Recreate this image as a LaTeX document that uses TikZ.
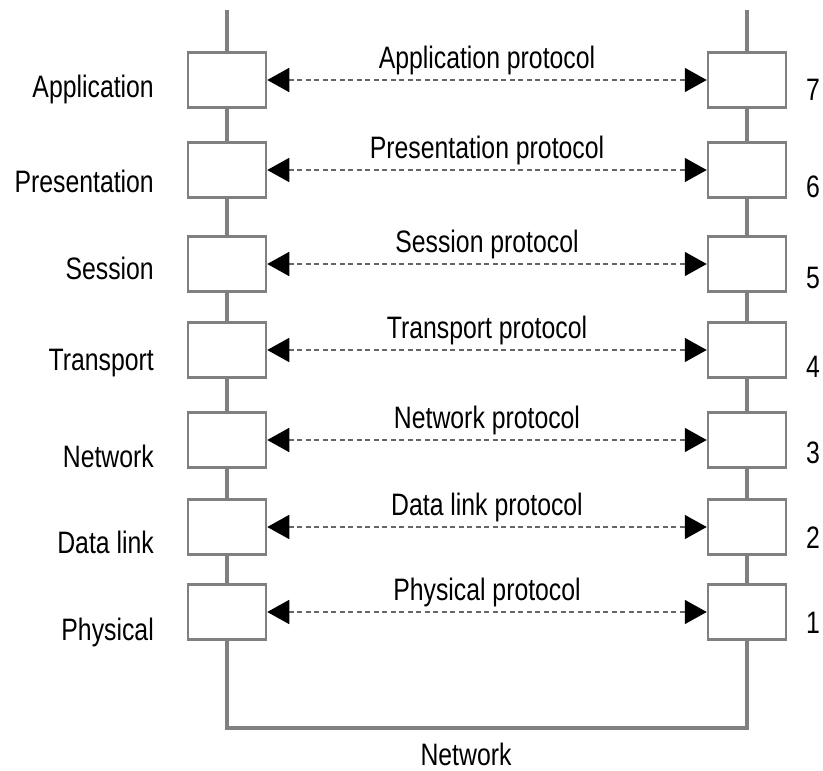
\documentclass[tikz,border=0pt]{standalone}
\usepackage{fontspec}
\newfontfamily\narrowsans{Liberation Sans}[FakeStretch=0.8]
\usetikzlibrary{arrows.meta}
\tikzset{
  layerbox/.style={draw=gray, line width=2.5pt, fill=white, minimum width=78pt, minimum height=55pt, inner sep=0pt},
  wire/.style={draw=gray, line width=3.5pt},
  peer/.style={draw=black!60, line width=1.6pt, dash pattern=on 5pt off 3.5pt, {Triangle[length=22pt,width=24pt,black]}-{Triangle[length=22pt,width=24pt,black]}},
  lbl/.style={font=\narrowsans\fontsize{31}{36}\selectfont, inner sep=0pt}
}
\begin{document}
\begin{tikzpicture}[x = 1pt, y = -1pt]
  \useasboundingbox (0,0) rectangle (823,771);
  % the seven layers on both hosts
  \foreach \n/\name/\yc/\lb/\nb in {7/Application/80/97/100, 6/Presentation/170/192/197, 5/Session/264/279/288, 4/Transport/350/370/377, 3/Network/440/467/463, 2/Data link/527/553/548, 1/Physical/612/640/633}{
    \node[layerbox] (L\n) at (227,\yc) {};
    \node[layerbox] (R\n) at (747,\yc) {};
    \node[lbl, anchor=base east] (name\n) at (154,\lb) {\name};
    \node[lbl, anchor=base] (num\n) at (813,\nb) {\n};
    \draw[peer] (L\n.east) -- (R\n.west);
    \node[lbl, anchor=base] (proto\n) at (487,\yc-12) {\name\ protocol};
  }
  % stacks
  \coordinate (Ltop) at (227,10);
  \coordinate (Rtop) at (747,10);
  \draw[wire] (Ltop) -- (L7.north);
  \draw[wire] (Rtop) -- (R7.north);
  \foreach \a/\b in {7/6, 6/5, 5/4, 4/3, 3/2, 2/1}{
    \draw[wire] (L\a.south) -- (L\b.north);
    \draw[wire] (R\a.south) -- (R\b.north);
  }
  % physical link
  \coordinate (bus) at (487,728);
  \draw[wire] (L1.south) |- (bus) -| (R1.south);
  \node[lbl, anchor=base] (net) at (466,765) {Network};
\end{tikzpicture}
\end{document}
